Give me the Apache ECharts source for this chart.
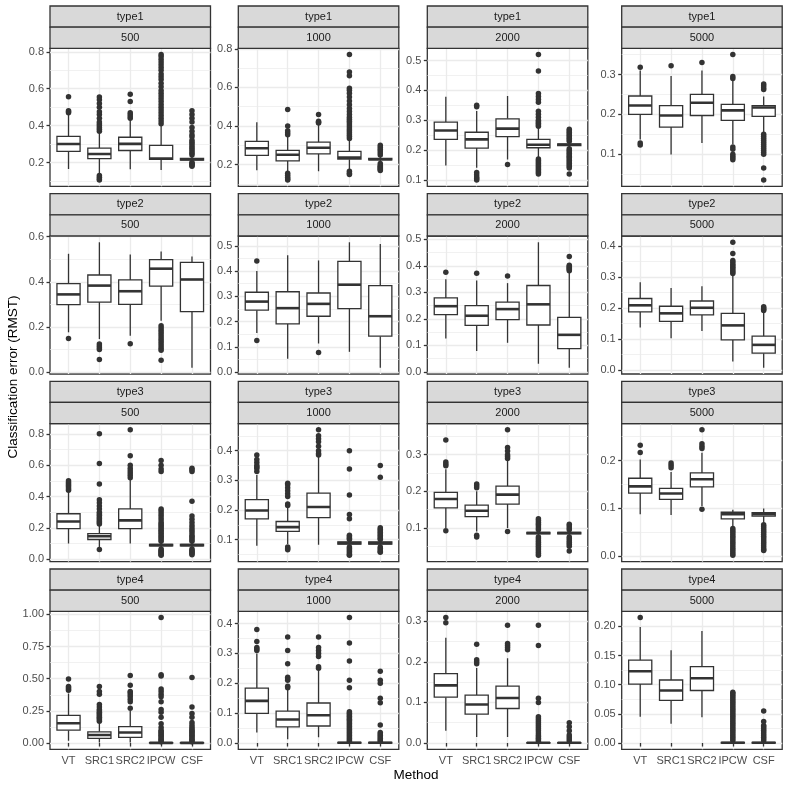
<!DOCTYPE html>
<html><head><meta charset="utf-8">
<script src="https://cdn.jsdelivr.net/npm/echarts@6/dist/echarts.min.js"></script>
<style>html,body{margin:0;padding:0;background:#fff}#c{width:789px;height:789px}</style>
</head><body><div id="c"></div>
<script>
const methods = ['VT','SRC1','SRC2','IPCW','CSF'];
const types = ['type1','type2','type3','type4'];
const sizes = ['500','1000','2000','5000'];

// per method: [lower whisker, Q1, median, Q3, upper whisker]
const box_t1_500 = [[0.165,0.26,0.30,0.342,0.46],[0.14,0.221,0.246,0.278,0.362],[0.164,0.265,0.301,0.337,0.43],[0.159,0.217,0.222,0.293,0.40],[0.205,0.213,0.218,0.222,0.232]];
const out_t1_500 = [[0.47,0.475,0.48,0.556],[0.37,0.38,0.39,0.40,0.41,0.42,0.44,0.46,0.475,0.50,0.52,0.54,0.555,0.13,0.12,0.11,0.105],[0.44,0.45,0.46,0.47,0.53,0.57],[0.41,0.425,0.44,0.455,0.47,0.485,0.50,0.515,0.53,0.545,0.56,0.575,0.59,0.61,0.63,0.65,0.665,0.68,0.70,0.715,0.73,0.745,0.76,0.775,0.785],[0.24,0.25,0.26,0.27,0.28,0.29,0.30,0.31,0.32,0.34,0.35,0.37,0.39,0.42,0.44,0.46,0.48,0.20,0.195,0.19,0.185,0.18]];
const box_t1_1000 = [[0.171,0.248,0.285,0.32,0.419],[0.162,0.219,0.251,0.274,0.345],[0.166,0.256,0.287,0.316,0.405],[0.175,0.228,0.236,0.268,0.325],[0.212,0.224,0.228,0.232,0.245]];
const out_t1_1000 = [[],[0.355,0.365,0.375,0.40,0.485,0.155,0.145,0.135,0.125,0.12],[0.415,0.42,0.425,0.46],[0.335,0.345,0.355,0.365,0.375,0.385,0.395,0.405,0.415,0.425,0.435,0.445,0.46,0.475,0.49,0.51,0.53,0.55,0.57,0.585,0.595,0.66,0.68,0.77,0.165,0.155,0.148],[0.25,0.26,0.27,0.28,0.29,0.30,0.205,0.195,0.19,0.185,0.18,0.175,0.17]];
const box_t1_2000 = [[0.149,0.236,0.266,0.294,0.379],[0.141,0.207,0.236,0.26,0.331],[0.169,0.245,0.272,0.305,0.381],[0.175,0.208,0.218,0.236,0.275],[0.21,0.215,0.218,0.221,0.226]];
const out_t1_2000 = [[],[0.345,0.35,0.125,0.118,0.11,0.105,0.10],[0.152],[0.28,0.285,0.29,0.295,0.30,0.31,0.32,0.33,0.36,0.37,0.38,0.39,0.465,0.52,0.17,0.165,0.16,0.155,0.15,0.145,0.14,0.135,0.13,0.125,0.12],[0.23,0.235,0.24,0.245,0.25,0.255,0.26,0.265,0.27,0.205,0.2,0.195,0.19,0.185,0.18,0.175,0.17,0.165,0.16,0.155,0.15,0.145,0.14,0.12]];
const box_t1_5000 = [[0.137,0.2,0.222,0.246,0.31],[0.099,0.168,0.197,0.222,0.296],[0.128,0.197,0.229,0.25,0.31],[0.125,0.185,0.21,0.225,0.285],[0.155,0.195,0.217,0.222,0.245]];
const out_t1_5000 = [[0.318,0.128,0.123],[0.322],[0.33],[0.29,0.295,0.35,0.118,0.112,0.1,0.095,0.09,0.086],[0.262,0.267,0.272,0.276,0.15,0.145,0.14,0.135,0.13,0.125,0.12,0.115,0.11,0.105,0.1,0.065,0.035]];

const box_t2_500 = [[0.176,0.299,0.344,0.392,0.524],[0.146,0.31,0.383,0.43,0.575],[0.161,0.30,0.358,0.408,0.521],[0.227,0.381,0.458,0.498,0.534],[0.019,0.268,0.41,0.486,0.512]];
const out_t2_500 = [[0.149],[0.124,0.115,0.108,0.10,0.056],[0.125],[0.205,0.195,0.185,0.175,0.165,0.155,0.145,0.135,0.125,0.115,0.105,0.097,0.052],[]];
const box_t2_1000 = [[0.155,0.245,0.279,0.316,0.40],[0.053,0.191,0.253,0.318,0.463],[0.113,0.221,0.27,0.313,0.442],[0.08,0.251,0.346,0.438,0.514],[0.017,0.142,0.221,0.342,0.507]];
const out_t2_1000 = [[0.44,0.125],[],[0.077],[],[]];
const box_t2_2000 = [[0.126,0.216,0.248,0.279,0.35],[0.079,0.176,0.212,0.25,0.345],[0.11,0.197,0.237,0.263,0.335],[0.031,0.177,0.255,0.326,0.489],[0.016,0.088,0.14,0.206,0.378]];
const out_t2_2000 = [[0.376],[0.372],[0.362],[],[0.382,0.386,0.39,0.394,0.398,0.402,0.435]];
const box_t2_5000 = [[0.137,0.188,0.209,0.231,0.284],[0.102,0.157,0.183,0.206,0.265],[0.126,0.178,0.201,0.223,0.271],[0.027,0.097,0.144,0.183,0.306],[0.007,0.054,0.081,0.109,0.188]];
const out_t2_5000 = [[],[],[],[0.312,0.317,0.322,0.327,0.332,0.337,0.342,0.348,0.354,0.377,0.413],[0.192,0.196,0.2,0.204]];

const box_t3_500 = [[0.10,0.195,0.241,0.29,0.435],[0.075,0.126,0.147,0.164,0.22],[0.10,0.195,0.248,0.321,0.505],[0.07,0.086,0.09,0.094,0.11],[0.07,0.086,0.09,0.094,0.11]];
const out_t3_500 = [[0.44,0.45,0.46,0.47,0.48,0.49,0.50],[0.225,0.232,0.24,0.25,0.26,0.27,0.28,0.29,0.30,0.32,0.34,0.36,0.38,0.48,0.61,0.80,0.062],[0.52,0.535,0.55,0.565,0.58,0.60,0.66,0.825],[0.115,0.125,0.135,0.145,0.155,0.165,0.175,0.185,0.195,0.205,0.215,0.225,0.235,0.25,0.265,0.28,0.295,0.31,0.32,0.56,0.575,0.60,0.63,0.065,0.058,0.051,0.044,0.037,0.03,0.025],[0.115,0.125,0.135,0.145,0.155,0.17,0.185,0.2,0.215,0.235,0.255,0.275,0.37,0.56,0.57,0.58,0.065,0.058,0.05,0.043,0.035,0.028]];
const box_t3_1000 = [[0.079,0.17,0.198,0.235,0.318],[0.085,0.128,0.142,0.161,0.21],[0.083,0.174,0.21,0.257,0.38],[0.078,0.085,0.088,0.092,0.097],[0.078,0.085,0.088,0.092,0.097]];
const out_t3_1000 = [[0.33,0.34,0.345,0.35,0.36,0.37,0.385],[0.215,0.22,0.245,0.255,0.265,0.275,0.285,0.29,0.075,0.07,0.066],[0.385,0.39,0.40,0.415,0.43,0.44,0.45,0.47],[0.1,0.105,0.11,0.115,0.17,0.185,0.25,0.338,0.40,0.075,0.07,0.065,0.06,0.055,0.05,0.047],[0.1,0.105,0.11,0.115,0.12,0.125,0.13,0.135,0.14,0.31,0.35,0.075,0.07,0.065,0.06,0.057]];
const box_t3_2000 = [[0.10,0.155,0.179,0.197,0.26],[0.09,0.131,0.147,0.162,0.2],[0.10,0.165,0.191,0.214,0.285],[0.078,0.084,0.086,0.088,0.092],[0.079,0.084,0.086,0.088,0.092]];
const out_t3_2000 = [[0.27,0.275,0.28,0.34,0.092],[0.21,0.215,0.22,0.08,0.075],[0.29,0.295,0.30,0.31,0.32,0.368,0.09],[0.095,0.1,0.105,0.11,0.115,0.12,0.125,0.075,0.07,0.065,0.06,0.055,0.05,0.045,0.04,0.035,0.03,0.025],[0.095,0.1,0.105,0.11,0.075,0.07,0.065,0.06,0.055,0.05,0.037]];
const box_t3_5000 = [[0.088,0.132,0.146,0.163,0.202],[0.086,0.119,0.131,0.142,0.176],[0.105,0.145,0.161,0.174,0.216],[0.062,0.078,0.088,0.092,0.097],[0.07,0.084,0.088,0.091,0.1]];
const out_t3_5000 = [[0.217,0.232],[0.185,0.19,0.195],[0.225,0.23,0.235,0.264,0.098],[0.058,0.054,0.05,0.046,0.042,0.038,0.034,0.03,0.026,0.022,0.018,0.014,0.01,0.006,0.002],[0.066,0.062,0.058,0.054,0.05,0.046,0.042,0.038,0.034,0.03,0.026,0.022,0.018,0.014,0.012]];

const box_t4_500 = [[0.018,0.10,0.154,0.215,0.385],[0.005,0.036,0.062,0.087,0.16],[0.005,0.044,0.082,0.128,0.25],[0,0,0.001,0.003,0.004],[0,0,0.001,0.002,0.004]];
const out_t4_500 = [[0.41,0.42,0.43,0.44,0.497],[0.17,0.18,0.19,0.2,0.21,0.22,0.23,0.24,0.25,0.26,0.28,0.3,0.38,0.4,0.44],[0.27,0.32,0.34,0.36,0.375,0.39,0.40,0.45,0.525],[0.01,0.02,0.03,0.04,0.05,0.06,0.07,0.08,0.09,0.1,0.12,0.15,0.2,0.24,0.26,0.32,0.36,0.38,0.40,0.42,0.52,0.53,0.975],[0.01,0.02,0.03,0.04,0.05,0.06,0.07,0.08,0.09,0.1,0.11,0.125,0.14,0.16,0.2,0.23,0.28,0.51]];
const box_t4_1000 = [[0.035,0.099,0.141,0.184,0.30],[0.013,0.054,0.079,0.107,0.178],[0.019,0.057,0.093,0.134,0.245],[0,0,0.001,0.002,0.003],[0,0,0.001,0.002,0.003]];
const out_t4_1000 = [[0.31,0.315,0.32,0.34,0.38],[0.185,0.19,0.21,0.215,0.22,0.265,0.31,0.355],[0.25,0.255,0.29,0.30,0.31,0.32,0.355],[0.006,0.01,0.015,0.02,0.025,0.03,0.035,0.04,0.045,0.05,0.055,0.06,0.065,0.07,0.075,0.08,0.085,0.09,0.095,0.1,0.105,0.185,0.21,0.275,0.335,0.42],[0.006,0.01,0.015,0.02,0.025,0.03,0.035,0.06,0.135,0.15,0.2,0.21,0.24]];
const box_t4_2000 = [[0.03,0.113,0.142,0.171,0.259],[0.015,0.071,0.095,0.118,0.185],[0.015,0.085,0.111,0.14,0.209],[0,0,0.0005,0.001,0.002],[0,0,0.0005,0.001,0.002]];
const out_t4_2000 = [[0.296,0.309],[0.195,0.2,0.205,0.243],[0.23,0.235,0.24,0.245,0.29],[0.004,0.008,0.012,0.016,0.02,0.025,0.03,0.035,0.04,0.045,0.05,0.055,0.06,0.065,0.1,0.11,0.24,0.29],[0.005,0.01,0.015,0.02,0.03,0.04,0.05]];
const box_t4_5000 = [[0.045,0.101,0.123,0.142,0.199],[0.033,0.073,0.09,0.108,0.159],[0.044,0.09,0.111,0.131,0.192],[0,0,0.0005,0.001,0.002],[0,0,0.0005,0.001,0.002]];
const out_t4_5000 = [[0.215],[],[],[0.004,0.007,0.01,0.013,0.016,0.019,0.022,0.025,0.028,0.031,0.034,0.037,0.04,0.043,0.046,0.049,0.052,0.055,0.058,0.061,0.064,0.067,0.07,0.073,0.076,0.079,0.082,0.085,0.087],[0.004,0.007,0.01,0.013,0.016,0.019,0.022,0.025,0.028,0.03,0.037,0.055]];

// y tick labels per panel
const ticks_t1 = [['0.2','0.4','0.6','0.8'],['0.2','0.4','0.6','0.8'],['0.1','0.2','0.3','0.4','0.5'],['0.1','0.2','0.3']];
const ticks_t2 = [['0.0','0.2','0.4','0.6'],['0.0','0.1','0.2','0.3','0.4','0.5'],['0.0','0.1','0.2','0.3','0.4','0.5'],['0.0','0.1','0.2','0.3','0.4']];
const ticks_t3 = [['0.0','0.2','0.4','0.6','0.8'],['0.1','0.2','0.3','0.4'],['0.1','0.2','0.3'],['0.0','0.1','0.2']];
const ticks_t4 = [['0.00','0.25','0.50','0.75','1.00'],['0.0','0.1','0.2','0.3','0.4'],['0.0','0.1','0.2','0.3'],['0.00','0.05','0.10','0.15','0.20']];

const boxes = [[box_t1_500,box_t1_1000,box_t1_2000,box_t1_5000],[box_t2_500,box_t2_1000,box_t2_2000,box_t2_5000],[box_t3_500,box_t3_1000,box_t3_2000,box_t3_5000],[box_t4_500,box_t4_1000,box_t4_2000,box_t4_5000]];
const outs = [[out_t1_500,out_t1_1000,out_t1_2000,out_t1_5000],[out_t2_500,out_t2_1000,out_t2_2000,out_t2_5000],[out_t3_500,out_t3_1000,out_t3_2000,out_t3_5000],[out_t4_500,out_t4_1000,out_t4_2000,out_t4_5000]];
const ticks = [ticks_t1,ticks_t2,ticks_t3,ticks_t4];

// layout
const FONT = "'Liberation Sans', Arial, sans-serif";
const colLeft = [50, 238.3, 427.3, 621.7];
const panelW = 160.5;
const rowTop = [6, 193.7, 381.3, 569];
const stripH = 21.15;
const panelH = 138;
const DARK = '#333333';

const grids = [], xAxes = [], yAxes = [], series = [], graphics = [];
for (let r = 0; r < 4; r++) {
  for (let c = 0; c < 4; c++) {
    const i = r * 4 + c;
    const bx = boxes[r][c], ot = outs[r][c], tk = ticks[r][c];
    let all = [];
    bx.forEach(b => all.push(b[0], b[4]));
    ot.forEach(o => all = all.concat(o));
    const dmin = Math.min.apply(null, all), dmax = Math.max.apply(null, all);
    const span = dmax - dmin;
    const lo = dmin - 0.05 * span, hi = dmax + 0.05 * span;
    const tv = tk.map(parseFloat);
    const step = tv[1] - tv[0];
    const minors = [];
    for (let k = -1; k < tv.length; k++) {
      const m = tv[0] + step * (k + 0.5);
      if (m >= lo && m <= hi) minors.push(+m.toFixed(6));
    }
    const top = rowTop[r] + 2 * stripH;
    grids.push({left: colLeft[c], top: top, width: panelW, height: panelH, show: true,
      borderColor: DARK, borderWidth: 1.3, backgroundColor: '#ffffff'});
    const bottom = (r === 3);
    xAxes.push({gridIndex: i, type: 'value', min: 0.4, max: 5.6,
      axisLine: {show: false},
      axisTick: {show: bottom, length: 3.5, lineStyle: {color: DARK, width: 1.3}, customValues: [1,2,3,4,5]},
      axisLabel: {show: bottom, customValues: [1,2,3,4,5], formatter: v => methods[Math.round(v) - 1],
        color: '#4D4D4D', fontSize: 11, margin: 6, fontFamily: FONT},
      splitLine: {show: true, lineStyle: {color: '#EBEBEB', width: 1.3}}});
    yAxes.push({gridIndex: i, type: 'value', min: lo, max: hi,
      axisLine: {show: false},
      axisTick: {show: true, length: 3.5, lineStyle: {color: DARK, width: 1.3}, customValues: tv},
      axisLabel: {customValues: tv, formatter: v => { const j = tv.findIndex(t => Math.abs(t - v) < 1e-9); return j >= 0 ? tk[j] : ''; },
        color: '#4D4D4D', fontSize: 11, margin: 6, fontFamily: FONT},
      splitLine: {show: true, lineStyle: {color: '#EBEBEB', width: 1.3}}});
    yAxes.push({gridIndex: i, type: 'value', min: lo, max: hi, position: 'left',
      axisLine: {show: false}, axisLabel: {show: false},
      axisTick: {show: false, customValues: minors},
      splitLine: {show: true, lineStyle: {color: '#EBEBEB', width: 0.7}}});
    const pts = [];
    ot.forEach((o, m) => o.forEach(v => pts.push([m + 1, v])));
    series.push({type: 'scatter', xAxisIndex: i, yAxisIndex: 2 * i, data: pts, symbolSize: 5.5,
      itemStyle: {color: DARK, opacity: 1}, z: 2, silent: true, clip: true});
    series.push({type: 'custom', xAxisIndex: i, yAxisIndex: 2 * i, z: 3, silent: true, clip: true,
      data: bx.map((b, m) => [m + 1, b[0], b[1], b[2], b[3], b[4]]),
      encode: {x: 0, y: [1, 2, 3, 4, 5]},
      renderItem: function (params, api) {
        const x = api.value(0);
        const pLo = api.coord([x, api.value(1)]);
        const pQ1 = api.coord([x, api.value(2)]);
        const pMd = api.coord([x, api.value(3)]);
        const pQ3 = api.coord([x, api.value(4)]);
        const pHi = api.coord([x, api.value(5)]);
        const hw = api.size([0.75, 0])[0] / 2;
        const ls = {stroke: DARK, lineWidth: 1.3, fill: null};
        return {type: 'group', children: [
          {type: 'line', shape: {x1: pLo[0], y1: pLo[1], x2: pQ1[0], y2: pQ1[1]}, style: ls},
          {type: 'line', shape: {x1: pQ3[0], y1: pQ3[1], x2: pHi[0], y2: pHi[1]}, style: ls},
          {type: 'rect', shape: {x: pQ1[0] - hw, y: pQ3[1], width: 2 * hw, height: pQ1[1] - pQ3[1]},
            style: {fill: '#ffffff', stroke: DARK, lineWidth: 1.3}},
          {type: 'line', shape: {x1: pMd[0] - hw, y1: pMd[1], x2: pMd[0] + hw, y2: pMd[1]},
            style: {stroke: DARK, lineWidth: 2.6}}
        ]};
      }});
    // strips
    [types[r], sizes[c]].forEach((lab, s) => {
      const y0 = rowTop[r] + s * stripH;
      graphics.push({type: 'rect', z: 10, silent: true,
        shape: {x: colLeft[c], y: y0, width: panelW, height: stripH},
        style: {fill: '#D9D9D9', stroke: DARK, lineWidth: 1.3}});
      graphics.push({type: 'text', z: 11, silent: true, x: colLeft[c] + panelW / 2, y: y0 + stripH / 2,
        style: {text: lab, fill: '#1A1A1A', font: '11px ' + FONT, textAlign: 'center', textVerticalAlign: 'middle'}});
    });
  }
}
graphics.push({type: 'text', silent: true, x: 13, y: 377, rotation: Math.PI / 2,
  style: {text: 'Classification error (RMST)', fill: '#000000', font: '13.5px ' + FONT, textAlign: 'center', textVerticalAlign: 'middle'}});
graphics.push({type: 'text', silent: true, x: 416, y: 775,
  style: {text: 'Method', fill: '#000000', font: '13.5px ' + FONT, textAlign: 'center', textVerticalAlign: 'middle'}});

const chart = echarts.init(document.getElementById('c'), null, {renderer: 'canvas'});
chart.setOption({animation: false, backgroundColor: '#ffffff', grid: grids, xAxis: xAxes, yAxis: yAxes, series: series, graphic: graphics});
</script>
</body></html>
